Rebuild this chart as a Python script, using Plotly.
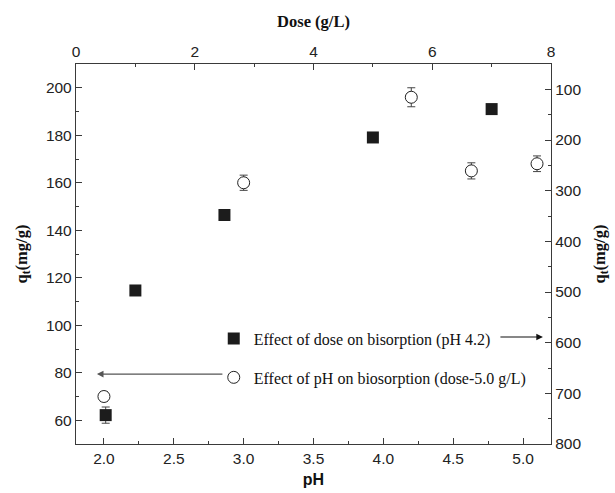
import plotly.graph_objects as go

# Effect of pH (bottom / left axes)
ph_values = [2.0, 3.0, 4.2, 4.63, 5.1]
ph_qt = [70, 160, 196, 165, 168]
ph_err = [2.0, 3.2, 4.0, 3.4, 3.3]

# Effect of dose (top / right axes)
dose_values = [0.5, 1.0, 2.5, 5.0, 7.0]
dose_qt = [743, 497, 348, 195, 139]
dose_err = [16, 8, 8, 8, 8]

sq_name = "Effect of dose on bisorption (pH 4.2)"
ci_name = "Effect of pH on biosorption (dose-5.0 g/L)"

AX = "#3a3a3a"
SANS = "Liberation Sans, Arial, sans-serif"
SERIF = "Liberation Serif, Times New Roman, serif"

fig = go.Figure()
fig.add_trace(go.Scatter(
    x=dose_values, y=dose_qt, xaxis="x2", yaxis="y2", mode="markers",
    name=sq_name, legendgroup="a",
    marker=dict(symbol="square", size=12, color="#1c1c1c", line=dict(width=0)),
    error_y=dict(type="data", array=dose_err, color="#444", thickness=1, width=4),
))
fig.add_trace(go.Scatter(
    x=ph_values, y=ph_qt, mode="markers", name=ci_name, legendgroup="b",
    marker=dict(symbol="circle", size=12, color="white", line=dict(width=1, color="#222")),
    error_y=dict(type="data", array=ph_err, color="#444", thickness=1, width=4),
))

common = dict(showline=True, linecolor=AX, linewidth=1.3, ticks="inside",
              tickcolor=AX, ticklen=6, tickwidth=1, showgrid=False, zeroline=False,
              automargin=False,
              tickfont=dict(family=SANS, size=15.5, color="#222"))

fig.update_layout(
    width=615, height=493,
    margin=dict(l=76, r=64, t=64, b=49),
    paper_bgcolor="white", plot_bgcolor="white",
    showlegend=True,
    legend=dict(x=0.29, y=0.322, xanchor="left", yanchor="top",
                bgcolor="rgba(0,0,0,0)", borderwidth=0,
                traceorder="grouped", tracegroupgap=15,
                font=dict(family=SERIF, size=16, color="#111")),
    xaxis=dict(range=[1.8, 5.2], dtick=0.5, tick0=2.0, tickformat=".1f",
               minor=dict(dtick=0.25, ticks="inside", ticklen=3, tickcolor=AX),
               title=dict(text="<b>pH</b>", font=dict(family=SANS, size=16, color="#111"), standoff=8),
               **common),
    xaxis2=dict(range=[0, 8], dtick=2, overlaying="x", side="top",
                minor=dict(dtick=1, ticks="inside", ticklen=3, tickcolor=AX),
                title=dict(text="<b>Dose (g/L)</b>", font=dict(family=SERIF, size=16.5, color="#111"), standoff=10),
                **common),
    yaxis=dict(range=[50, 210], dtick=20, tick0=60,
               minor=dict(dtick=10, ticks="inside", ticklen=3, tickcolor=AX),
               title=dict(text="<b>q<sub>t</sub>(mg/g)</b>", font=dict(family=SERIF, size=16.5, color="#111"), standoff=14),
               **common),
    yaxis2=dict(range=[800, 50], dtick=100, tick0=100, overlaying="y", side="right",
                minor=dict(dtick=50, ticks="inside", ticklen=3, tickcolor=AX),
                title=dict(text="<b>q<sub>t</sub>(mg/g)</b>", font=dict(family=SERIF, size=16.5, color="#111"), standoff=12),
                **common),
)

fig.add_annotation(xref="paper", yref="paper", x=0.983, y=0.2816, ax=-44, ay=0,
                   text="", showarrow=True, arrowhead=2, arrowsize=1.2, arrowwidth=1.1,
                   arrowcolor="#111")
fig.add_annotation(xref="paper", yref="paper", x=0.044, y=0.184, ax=127, ay=0,
                   text="", showarrow=True, arrowhead=2, arrowsize=1.2, arrowwidth=1.1,
                   arrowcolor="#555")

fig.write_html("out.html")
